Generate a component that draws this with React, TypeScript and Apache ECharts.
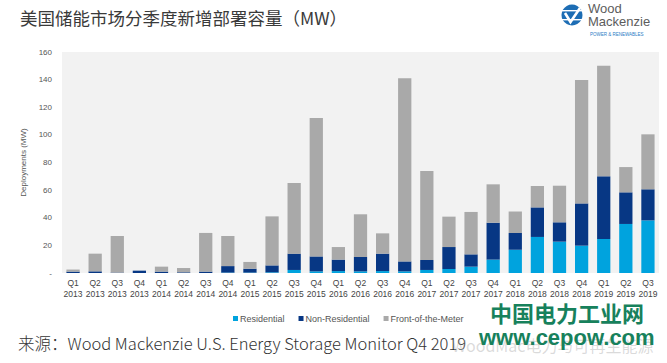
import React, { useEffect, useRef } from "react";
import * as echarts from "echarts";

const quarters = ["Q1","Q2","Q3","Q4","Q1","Q2","Q3","Q4","Q1","Q2","Q3","Q4","Q1","Q2","Q3","Q4","Q1","Q2","Q3","Q4","Q1","Q2","Q3","Q4","Q1","Q2","Q3"];
const years = ["2013","2013","2013","2013","2014","2014","2014","2014","2015","2015","2015","2015","2016","2016","2016","2016","2017","2017","2017","2017","2018","2018","2018","2018","2019","2019","2019"];
const residential = [0,0,0,0,0,0,0,0.3,0.3,0.5,2.2,1.2,1.4,1.2,1.4,1.2,2.2,2.9,4.6,9.7,16.9,26.1,22.7,19.8,24.6,35.5,38.1];
const nonResidential = [1.0,1.2,0.3,1.7,1.0,0.5,1.0,4.7,2.8,5.0,11.8,10.8,8.3,10.4,12.6,7.2,7.2,15.9,8.9,26.7,12.1,21.4,14.0,30.6,45.4,22.9,22.5];
const frontOfMeter = [1.5,12.8,26.5,0,3.6,3.1,28,21.8,4.9,35.5,51.2,100.2,9.1,30.9,14.7,132.6,64.4,22,30.7,27.8,15.6,15.5,26.5,89.3,80.1,18.3,39.8];
const yTicks = { min: 0, max: 160, interval: 20 };

const SANS = "'Liberation Sans', Arial, 'Noto Sans CJK SC', sans-serif";
const CJK = "'Noto Sans CJK SC', 'Liberation Sans', sans-serif";

export default function App() {
  const ref = useRef<HTMLDivElement>(null);
  useEffect(() => {
    document.body.style.margin = "0";
    const chart = echarts.init(ref.current!, undefined, { renderer: "svg" });
    const categories = quarters.map((q, i) => q + "\n" + years[i]);
    chart.setOption({
      animation: false,
      backgroundColor: "#ffffff",
      grid: {
        left: 62, right: 8, top: 52, bottom: 90,
        show: true, backgroundColor: "#f2f2f2", borderWidth: 0,
      },
      legend: {
        top: 309, left: 228,
        icon: "rect", itemWidth: 5, itemHeight: 5, itemGap: 14,
        textStyle: { fontSize: 9, color: "#555", fontFamily: SANS, padding: [0, 0, 0, -3] },
        data: ["Residential", "Non-Residential", "Front-of-the-Meter"],
      },
      xAxis: {
        type: "category",
        data: categories,
        axisLine: { show: false },
        axisTick: { show: false },
        axisLabel: { fontSize: 8.5, color: "#444", fontFamily: SANS, lineHeight: 11, margin: 4, interval: 0 },
      },
      yAxis: {
        type: "value",
        min: yTicks.min, max: yTicks.max, interval: yTicks.interval,
        name: "Deployments (MW)",
        nameLocation: "middle",
        nameGap: 33,
        nameTextStyle: { fontSize: 8, color: "#555", fontFamily: SANS },
        splitLine: { show: false },
        axisLine: { show: false },
        axisTick: { show: false },
        axisLabel: {
          fontSize: 8, color: "#555", fontFamily: SANS, margin: 10,
          formatter: (v: number) => (v === 0 ? "-" : String(v)),
        },
      },
      series: [
        { name: "Residential", type: "bar", stack: "a", barWidth: "60%", data: residential, itemStyle: { color: "#00a3de" } },
        { name: "Non-Residential", type: "bar", stack: "a", data: nonResidential, itemStyle: { color: "#073784" } },
        { name: "Front-of-the-Meter", type: "bar", stack: "a", data: frontOfMeter, itemStyle: { color: "#a9a9a9" } },
      ],
      graphic: [
        { type: "text", left: 20, top: 9, style: { text: "美国储能市场分季度新增部署容量（MW）", font: `17.5px ${CJK}`, fill: "#3a3a3a" } },
        // logo
        { type: "circle", shape: { cx: 572, cy: 15, r: 10.5 }, style: { fill: "#1d6db4" } },
        { type: "rect", shape: { x: 562, y: 10, width: 21, height: 1.4 }, style: { fill: "#ffffff" } },
        { type: "rect", shape: { x: 562, y: 19, width: 21, height: 1.4 }, style: { fill: "#ffffff" } },
        { type: "polyline", shape: { points: [[565, 13], [570.5, 22], [580, 8]] }, style: { stroke: "#ffffff", lineWidth: 2.6, fill: "none" } },
        { type: "text", left: 588, top: 2, style: { text: "Wood", font: `13px ${SANS}`, fill: "#5c5c5c" } },
        { type: "text", left: 588, top: 15, style: { text: "Mackenzie", font: `13px ${SANS}`, fill: "#5c5c5c" } },
        { type: "text", left: 590, top: 32, style: { text: "POWER & RENEWABLES", font: `4.5px ${SANS}`, fill: "#2a7cc4" } },
        // source
        { type: "text", left: 18, top: 335, style: { text: "来源：Wood Mackenzie U.S. Energy Storage Monitor Q4 2019", font: `300 16.5px ${CJK}`, fill: "#333" } },
        // watermarks
        { type: "text", left: 452, top: 337, style: { text: "WoodMac电力与可再生能源", font: `16px ${CJK}`, fill: "rgba(150,150,150,0.35)" } },
        { type: "text", left: 490, top: 301, style: { text: "中国电力工业网", font: `bold 22px ${CJK}`, lineHeight: 20, fill: "#17815c" } },
        { type: "text", left: 479, top: 326, style: { text: "www.cepow.com", font: `bold 22px ${SANS}`, lineHeight: 20, fill: "#17815c" } },
      ],
    });
    return () => chart.dispose();
  }, []);
  return <div ref={ref} style={{ width: 667, height: 363, position: "fixed", left: 0, top: 0 }} />;
}
